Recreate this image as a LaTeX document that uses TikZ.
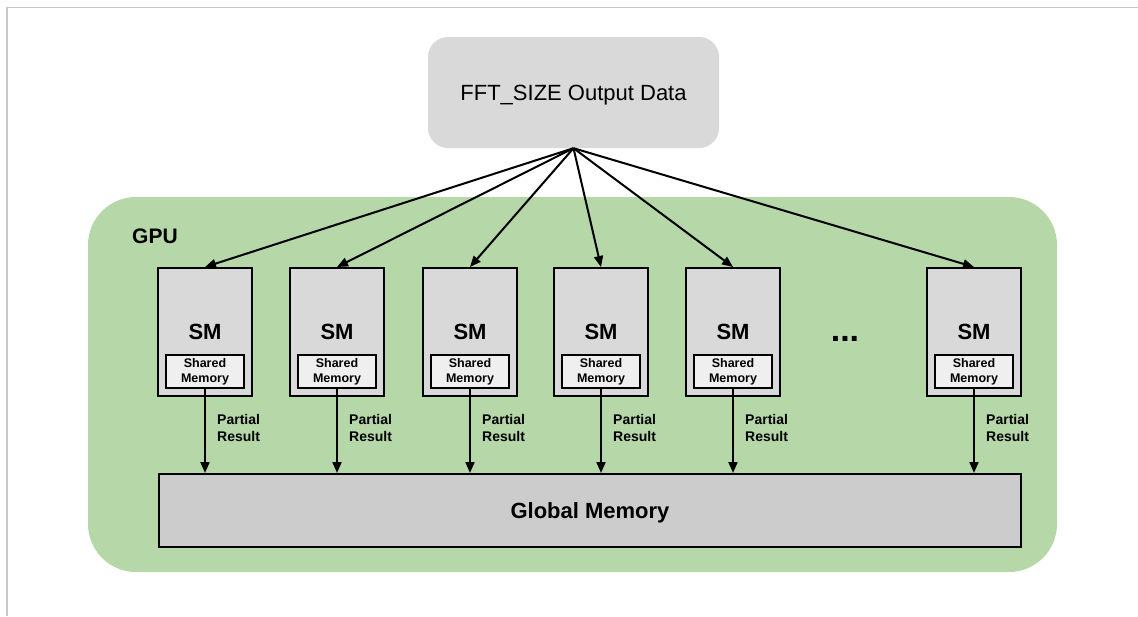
\documentclass[tikz,border=0pt]{standalone}
\usepackage{fontspec}
\setmainfont{Liberation Sans}
\usepackage{tikz}
\usetikzlibrary{arrows.meta}
\definecolor{frame}{HTML}{C8C8C8}
\definecolor{gpugreen}{HTML}{B6D7A8}
\definecolor{boxgray}{HTML}{D9D9D9}
\definecolor{shmgray}{HTML}{EFEFEF}
\definecolor{memgray}{HTML}{CCCCCC}
\tikzset{
  databox/.style={fill=boxgray, rounded corners=20pt, minimum width=291pt, minimum height=111pt,
    text depth=0pt, font=\fontsize{22}{26}\selectfont},
  gpubox/.style={fill=gpugreen, rounded corners=48pt},
  smbox/.style={draw=black, line width=2pt, fill=boxgray, minimum width=94pt, minimum height=128pt,
    font=\bfseries\fontsize{22}{26}\selectfont},
  shmbox/.style={draw=black, line width=1.6pt, fill=shmgray, minimum width=78pt, minimum height=33pt,
    align=center, inner sep=0pt, font=\bfseries\fontsize{12.5}{15}\selectfont},
  membox/.style={draw=black, line width=2pt, fill=memgray, minimum width=862pt, minimum height=73pt,
    text depth=0pt, font=\bfseries\fontsize{22}{26}\selectfont},
  arr/.style={line width=2pt, -{Triangle[length=11pt,width=9pt]}},
  plab/.style={anchor=west, align=left, inner sep=0pt, font=\bfseries\fontsize{14}{16.5}\selectfont}
}
\begin{document}
\begin{tikzpicture}[x=1pt,y=-1pt]
  \useasboundingbox (0,0) rectangle (1138,616);
  % page frame
  \draw[frame, line width=1.5pt] (7,616) -- (7,7.5) -- (1138,7.5);

  % GPU area
  \fill[gpubox] (88,197) rectangle (1057,572);
  \node[font=\bfseries\fontsize{21}{25}\selectfont] (gpu) at (155,236) {GPU};

  \node[databox] (data) at (573.5,92.5) {FFT\_SIZE Output Data};

  \node[membox] (gmem) at (590,510.5) {Global Memory};

  % SMs, x positions of the six columns
  \foreach \i/\x in {1/205,2/337,3/470,4/601,5/733,6/974}{
    \node[smbox] (sm\i) at (\x,332) {SM};
    \node[shmbox] (shm\i) at (\x,371.5) {Shared\\Memory};
    \coordinate (in\i) at (gmem.north -| shm\i.south);
    \draw[arr] (data.south) -- (sm\i.north);
    \draw[arr] (shm\i.south) -- (in\i);
    \node[plab] (pr\i) at (\x+12,428) {Partial\\Result};
  }

  \node[font=\bfseries\fontsize{34}{36}\selectfont] (dots) at (845,339) {...};
\end{tikzpicture}
\end{document}
